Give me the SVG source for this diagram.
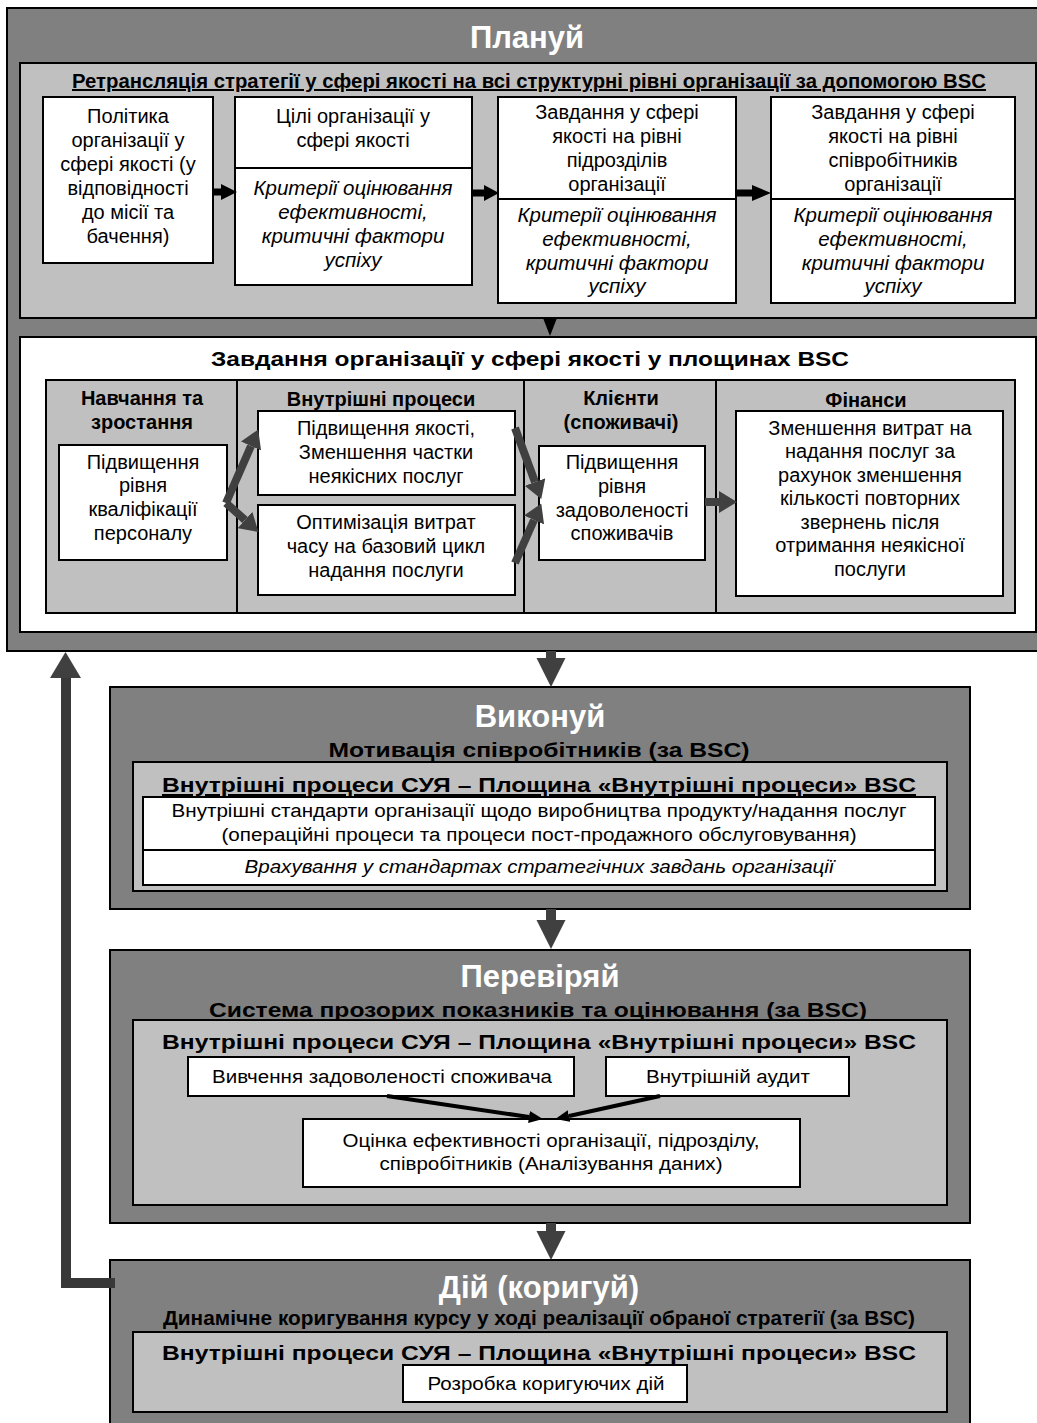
<svg xmlns="http://www.w3.org/2000/svg" width="1037" height="1423" viewBox="0 0 1037 1423">
<defs>
<style>
text{font-family:"Liberation Sans",Arial,sans-serif;fill:#000}
.title{font-size:31px;font-weight:bold;fill:#fff;text-anchor:middle}
.sub{font-size:21px;font-weight:bold;text-anchor:middle}
.hd{font-size:20px;font-weight:bold;text-anchor:middle}
.t{font-size:20px;text-anchor:middle}
.ti{font-size:20.5px;font-style:italic;text-anchor:middle}
.s{font-size:18px;text-anchor:middle}
.si{font-size:18px;font-style:italic;text-anchor:middle}
.ul{text-decoration:underline}
.outer{fill:#808080;stroke:#000;stroke-width:2}
.gray{fill:#c0c0c0;stroke:#000;stroke-width:2}
.white{fill:#fff;stroke:#000;stroke-width:2}
.ln{stroke:#000;stroke-width:2;fill:none}
.dk{stroke:#404040;stroke-width:8;fill:none}
.bk{stroke:#000;stroke-width:4;fill:none}
</style>
<marker id="hdk" markerUnits="userSpaceOnUse" markerWidth="18" markerHeight="22" refX="0" refY="11" orient="auto" viewBox="0 0 18 22"><path d="M0,0 L18,11 L0,22 z" fill="#404040"/></marker>
<marker id="hbk" markerUnits="userSpaceOnUse" markerWidth="14" markerHeight="12" refX="0" refY="6" orient="auto" viewBox="0 0 14 12"><path d="M0,0 L14,6 L0,12 z" fill="#000"/></marker>
</defs>

<g id="plan">
<rect class="outer" x="7" y="8" width="1040" height="643"/>
<text class="title" x="527" y="48">Плануй</text>
</g>

<g id="cascade">
<rect class="gray" x="20" y="63" width="1016" height="255"/>
<text class="hd ul" x="529" y="88" font-size="19.5" textLength="914" lengthAdjust="spacingAndGlyphs">Ретрансляція стратегії у сфері якості на всі структурні рівні організації за допомогою BSC</text>
</g>

<g id="policy">
<rect class="white" x="43" y="97" width="170" height="166"/>
<text class="t" x="128" y="123">Політика</text>
<text class="t" x="128" y="147">організації у</text>
<text class="t" x="128" y="171">сфері якості (у</text>
<text class="t" x="128" y="195">відповідності</text>
<text class="t" x="128" y="219">до місії та</text>
<text class="t" x="128" y="243">бачення)</text>
</g>

<g id="goals">
<rect class="white" x="235" y="97" width="237" height="188"/>
<line class="ln" x1="235" y1="168" x2="472" y2="168"/>
<text class="t" x="353" y="123">Цілі організації у</text>
<text class="t" x="353" y="147">сфері якості</text>
<text class="ti" x="353" y="195">Критерії оцінювання</text>
<text class="ti" x="353" y="219">ефективності,</text>
<text class="ti" x="353" y="243">критичні фактори</text>
<text class="ti" x="353" y="267">успіху</text>
</g>

<g id="dept-tasks">
<rect class="white" x="498" y="97" width="238" height="206"/>
<line class="ln" x1="498" y1="199" x2="736" y2="199"/>
<text class="t" x="617" y="119">Завдання у сфері</text>
<text class="t" x="617" y="143">якості на рівні</text>
<text class="t" x="617" y="167">підрозділів</text>
<text class="t" x="617" y="191">організації</text>
<text class="ti" x="617" y="222">Критерії оцінювання</text>
<text class="ti" x="617" y="246">ефективності,</text>
<text class="ti" x="617" y="270">критичні фактори</text>
<text class="ti" x="617" y="293">успіху</text>
</g>

<g id="staff-tasks">
<rect class="white" x="771" y="97" width="244" height="206"/>
<line class="ln" x1="771" y1="199" x2="1015" y2="199"/>
<text class="t" x="893" y="119">Завдання у сфері</text>
<text class="t" x="893" y="143">якості на рівні</text>
<text class="t" x="893" y="167">співробітників</text>
<text class="t" x="893" y="191">організації</text>
<text class="ti" x="893" y="222">Критерії оцінювання</text>
<text class="ti" x="893" y="246">ефективності,</text>
<text class="ti" x="893" y="270">критичні фактори</text>
<text class="ti" x="893" y="293">успіху</text>
</g>

<g id="bsc">
<rect class="white" x="20" y="337" width="1016" height="295"/>
<text class="sub" x="530" y="366" font-size="22.5" textLength="638" lengthAdjust="spacingAndGlyphs">Завдання організації у сфері якості у площинах BSC</text>
<rect class="gray" x="46" y="380" width="969" height="233"/>
<line class="ln" x1="237" y1="380" x2="237" y2="613"/>
<line class="ln" x1="524" y1="380" x2="524" y2="613"/>
<line class="ln" x1="716" y1="380" x2="716" y2="613"/>
<text class="hd" x="142" y="405">Навчання та</text>
<text class="hd" x="142" y="429">зростання</text>
<text class="hd" x="381" y="406">Внутрішні процеси</text>
<text class="hd" x="621" y="405">Клієнти</text>
<text class="hd" x="621" y="429">(споживачі)</text>
<text class="hd" x="866" y="407">Фінанси</text>
</g>

<g id="learning">
<rect class="white" x="59" y="445" width="168" height="115"/>
<text class="t" x="143" y="469">Підвищення</text>
<text class="t" x="143" y="492">рівня</text>
<text class="t" x="143" y="516">кваліфікації</text>
<text class="t" x="143" y="540">персоналу</text>
</g>

<g id="quality">
<rect class="white" x="258" y="411" width="257" height="84"/>
<text class="t" x="386" y="435">Підвищення якості,</text>
<text class="t" x="386" y="459">Зменшення частки</text>
<text class="t" x="386" y="483">неякісних послуг</text>
</g>

<g id="cycle">
<rect class="white" x="258" y="505" width="257" height="90"/>
<text class="t" x="386" y="529">Оптимізація витрат</text>
<text class="t" x="386" y="553">часу на базовий цикл</text>
<text class="t" x="386" y="577">надання послуги</text>
</g>

<g id="satisfaction">
<rect class="white" x="539" y="446" width="166" height="114"/>
<text class="t" x="622" y="469">Підвищення</text>
<text class="t" x="622" y="493">рівня</text>
<text class="t" x="622" y="517">задоволеності</text>
<text class="t" x="622" y="540">споживачів</text>
</g>

<g id="finance">
<rect class="white" x="736" y="411" width="267" height="185"/>
<text class="t" x="870" y="435">Зменшення витрат на</text>
<text class="t" x="870" y="458">надання послуг за</text>
<text class="t" x="870" y="482">рахунок зменшення</text>
<text class="t" x="870" y="505">кількості повторних</text>
<text class="t" x="870" y="529">звернень після</text>
<text class="t" x="870" y="552">отримання неякісної</text>
<text class="t" x="870" y="576">послуги</text>
</g>

<g id="do">
<rect class="outer" x="110" y="687" width="860" height="222"/>
<text class="title" x="540" y="727">Виконуй</text>
<text class="sub" x="539" y="757" font-size="23" textLength="421" lengthAdjust="spacingAndGlyphs">Мотивація співробітників (за BSC)</text>
<rect class="gray" x="133" y="762" width="814" height="129"/>
<text class="sub ul" x="539" y="792" font-size="23" textLength="754" lengthAdjust="spacingAndGlyphs">Внутрішні процеси СУЯ – Площина «Внутрішні процеси» BSC</text>
<rect class="white" x="143" y="797" width="792" height="88"/>
<line class="ln" x1="143" y1="850" x2="935" y2="850"/>
<text class="s" x="539" y="817" textLength="735" lengthAdjust="spacingAndGlyphs">Внутрішні стандарти організації щодо виробництва продукту/надання послуг</text>
<text class="s" x="539" y="841" textLength="635" lengthAdjust="spacingAndGlyphs">(операційні процеси та процеси пост-продажного обслуговування)</text>
<text class="si" x="539" y="873" textLength="589" lengthAdjust="spacingAndGlyphs">Врахування у стандартах стратегічних завдань організації</text>
</g>

<g id="check">
<rect class="outer" x="110" y="950" width="860" height="273"/>
<text class="title" x="540" y="987">Перевіряй</text>
<text class="sub" x="538" y="1017" font-size="23" textLength="658" lengthAdjust="spacingAndGlyphs">Система прозорих показників та оцінювання (за BSC)</text>
<rect class="gray" x="133" y="1020" width="814" height="185"/>
<text class="sub" x="539" y="1049" font-size="23" textLength="754" lengthAdjust="spacingAndGlyphs">Внутрішні процеси СУЯ – Площина «Внутрішні процеси» BSC</text>
</g>

<g id="survey">
<rect class="white" x="188" y="1057" width="386" height="39"/>
<text class="s" x="382" y="1083" textLength="340" lengthAdjust="spacingAndGlyphs">Вивчення задоволеності споживача</text>
</g>

<g id="audit">
<rect class="white" x="606" y="1057" width="243" height="39"/>
<text class="s" x="728" y="1083" textLength="164" lengthAdjust="spacingAndGlyphs">Внутрішній аудит</text>
</g>

<g id="evaluation">
<rect class="white" x="303" y="1119" width="497" height="68"/>
<text class="s" x="551" y="1147" textLength="417" lengthAdjust="spacingAndGlyphs">Оцінка ефективності організації, підрозділу,</text>
<text class="s" x="551" y="1170" textLength="343" lengthAdjust="spacingAndGlyphs">співробітників (Аналізування даних)</text>
</g>

<g id="act">
<rect class="outer" x="110" y="1260" width="860" height="180"/>
<text class="title" x="539" y="1298">Дій (коригуй)</text>
<text class="sub" x="539" y="1325" font-size="21" textLength="752" lengthAdjust="spacingAndGlyphs">Динамічне коригування курсу у ході реалізації обраної стратегії (за BSC)</text>
<rect class="gray" x="133" y="1332" width="814" height="80"/>
<text class="sub" x="539" y="1360" font-size="23" textLength="754" lengthAdjust="spacingAndGlyphs">Внутрішні процеси СУЯ – Площина «Внутрішні процеси» BSC</text>
</g>

<g id="corrective">
<rect class="white" x="403" y="1365" width="284" height="37"/>
<text class="s" x="546" y="1390" textLength="237" lengthAdjust="spacingAndGlyphs">Розробка коригуючих дій</text>
</g>

<g id="connectors">
<polygon points="213,188.5 221,188.5 221,184 237,192 221,200 221,195.5 213,195.5" fill="#000"/>
<polygon points="472,189.5 484,189.5 484,185 499,193 484,201 484,196.5 472,196.5" fill="#000"/>
<polygon points="736,189.5 752,189.5 752,185 771,193 752,201 752,196.5 736,196.5" fill="#000"/>
<polygon points="543,318 557,318 550,336" fill="#000"/>
<line class="dk" x1="226" y1="503" x2="251" y2="446" marker-end="url(#hdk)"/>
<line class="dk" x1="226" y1="503" x2="245" y2="520" marker-end="url(#hdk)"/>
<line class="dk" x1="515" y1="428" x2="535" y2="482" marker-end="url(#hdk)"/>
<line class="dk" x1="515" y1="563" x2="534" y2="520" marker-end="url(#hdk)"/>
<line class="dk" x1="705" y1="502" x2="719" y2="502" marker-end="url(#hdk)"/>
<polygon points="546,651 556,651 556,658 565.5,658 551,687 536.5,658 546,658" fill="#404040"/>
<polygon points="546,909 556,909 556,920 565.5,920 551,949 536.5,920 546,920" fill="#404040"/>
<polygon points="546,1223 556,1223 556,1231 565.5,1231 551,1260 536.5,1231 546,1231" fill="#404040"/>
<path d="M115,1283 H66 V676" fill="none" stroke="#383838" stroke-width="10"/>
<polygon points="50,678 81,678 65.5,652" fill="#404040"/>
<line class="bk" x1="387" y1="1096" x2="529" y2="1117" marker-end="url(#hbk)"/>
<line class="bk" x1="660" y1="1096" x2="569" y2="1116" marker-end="url(#hbk)"/>
</g>
</svg>
